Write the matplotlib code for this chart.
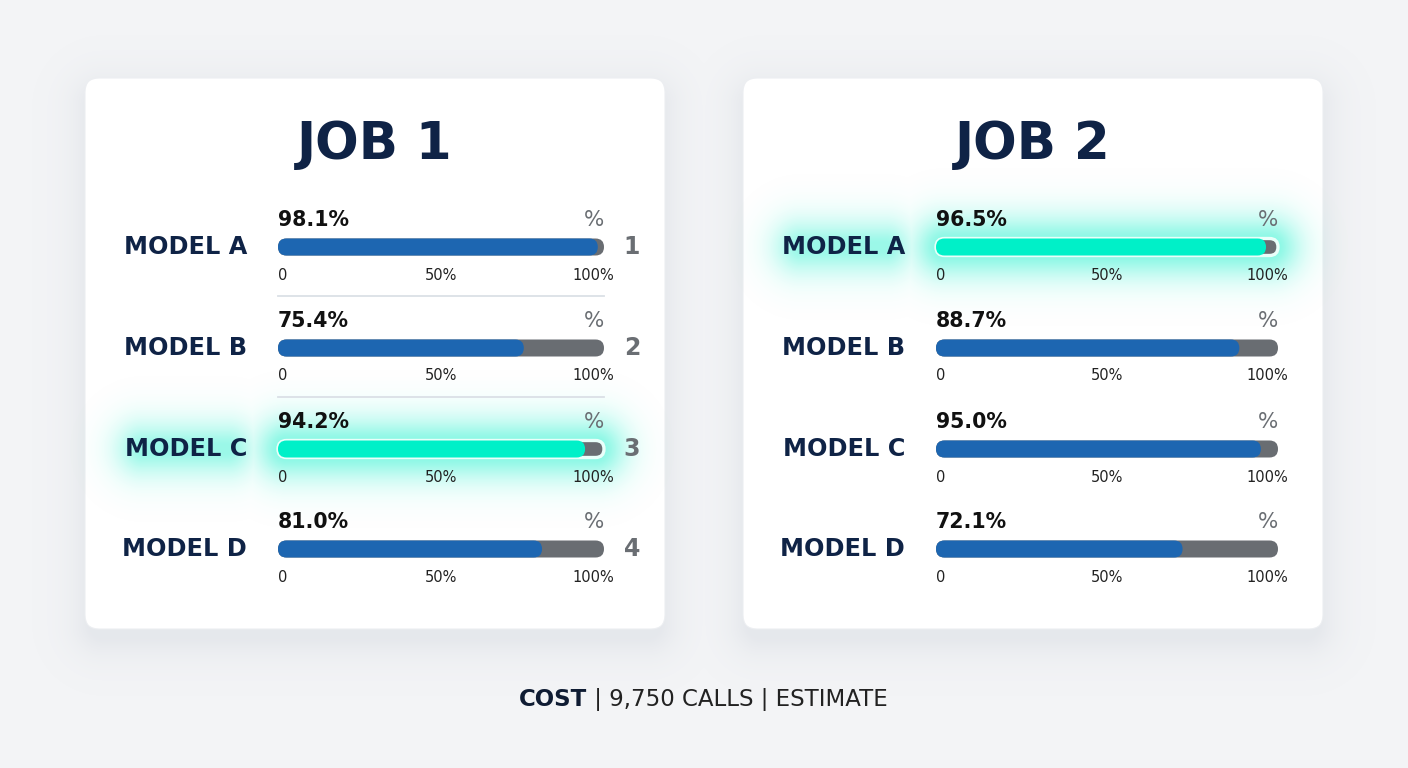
import numpy as np
import matplotlib
matplotlib.use("Agg")
import matplotlib.pyplot as plt
from matplotlib.patches import FancyBboxPatch

# data
models = ["MODEL A", "MODEL B", "MODEL C", "MODEL D"]
job_titles = ["JOB 1", "JOB 2"]
job1_scores = [98.1, 75.4, 94.2, 81.0]
job2_scores = [96.5, 88.7, 95.0, 72.1]
job1_ranks = ["1", "2", "3", "4"]
job_highlight = [2, 0]          # index of highlighted model per job
tick_labels = ["0", "50%", "100%"]
footer_bold = "COST"
footer_rest = " | 9,750 CALLS | ESTIMATE"

NAVY = "#0f2346"
BLUE = "#1d66b1"
TRACK = "#696d72"
TEAL = "#00f0c8"
GREY = "#6a6e73"
BG = "#f3f4f6"

W, H = 1408, 768
fig = plt.figure(figsize=(W / 100, H / 100), dpi=100)
fig.patch.set_facecolor(BG)
ax = fig.add_axes([0, 0, 1, 1])
ax.set_xlim(0, W)
ax.set_ylim(H, 0)
ax.axis("off")


def rrect_dist(X, Y, x0, y0, x1, y1, r):
    # distance from outside of a rounded rectangle
    cx, cy = (x0 + x1) / 2, (y0 + y1) / 2
    hx, hy = (x1 - x0) / 2 - r, (y1 - y0) / 2 - r
    qx = np.abs(X - cx) - hx
    qy = np.abs(Y - cy) - hy
    out = np.hypot(np.maximum(qx, 0), np.maximum(qy, 0))
    return np.maximum(out - r, 0)


# card shadows
yy, xx = np.mgrid[0:H, 0:W] + 0.5
cards = [(85, 78, 665, 629), (743, 78, 1323, 629)]
shadow = np.zeros((H, W))
for (x0, y0, x1, y1) in cards:
    d = rrect_dist(xx, yy, x0 + 4, y0 + 14, x1 - 4, y1 + 10, 14)
    shadow = np.maximum(shadow, 0.13 * np.exp(-(d / 20) ** 1.2))
img = np.zeros((H, W, 4))
img[..., :3] = np.array([0.55, 0.60, 0.68])
img[..., 3] = shadow
ax.imshow(img, extent=(0, W, H, 0), zorder=0, interpolation="bilinear")
ax.set_xlim(0, W)
ax.set_ylim(H, 0)

for (x0, y0, x1, y1) in cards:
    ax.add_patch(FancyBboxPatch((x0, y0), x1 - x0, y1 - y0,
                                boxstyle="round,pad=0,rounding_size=14",
                                fc="white", ec="#eceef1", lw=0.8, zorder=1))

row_y = [247, 348, 449, 549]
bar_h = 17


def glow(label_x0, label_x1, bx0, bx1, yc):
    gx0, gx1 = int(label_x0 - 100), int(bx1 + 100)
    gy0, gy1 = int(yc - 100), int(yc + 100)
    gy, gx = np.mgrid[gy0:gy1, gx0:gx1] + 0.5
    d_bar = rrect_dist(gx, gy, bx0, yc - bar_h / 2, bx1, yc + bar_h / 2, bar_h / 2)
    d_lab = rrect_dist(gx, gy, label_x0 + 15, yc - 4, label_x1 - 15, yc + 4, 4)
    a = np.maximum(0.60 * np.exp(-(d_bar / 24) ** 1.5),
                   0.52 * np.exp(-(d_lab / 24) ** 1.5))
    g = np.zeros(a.shape + (4,))
    g[..., :3] = matplotlib.colors.to_rgb("#3ef3d4")
    g[..., 3] = a
    ax.imshow(g, extent=(gx0, gx1, gy1, gy0), zorder=2, interpolation="bilinear")


jobs = [
    dict(x_off=0, bar_end=604, scores=job1_scores, ranks=job1_ranks, seps=[296, 397]),
    dict(x_off=658, bar_end=1278, scores=job2_scores, ranks=None, seps=[]),
]

for j, job in enumerate(jobs):
    off = job["x_off"]
    cx = (cards[j][0] + cards[j][2]) / 2
    ax.text(cx, 145, job_titles[j], ha="center", va="center", fontsize=37,
            fontweight="bold", color=NAVY, zorder=5)
    bx0, bx1 = 278 + off, job["bar_end"]
    bw = bx1 - bx0
    for sy in job["seps"]:
        ax.plot([bx0, bx1], [sy, sy], color="#dbe0e6", lw=1.3, zorder=3)
    for i, (name, v) in enumerate(zip(models, job["scores"])):
        yc = row_y[i]
        hl = job_highlight[j] == i
        if hl:
            glow(124 + off, 247 + off, bx0, bx1, yc)
        ax.text(247 + off, yc, name, ha="right", va="center", fontsize=17.3,
                fontweight="bold", color=NAVY, zorder=5)
        # track
        ax.add_patch(FancyBboxPatch((bx0, yc - bar_h / 2), bw, bar_h,
                                    boxstyle=f"round,pad=0,rounding_size={bar_h/2}",
                                    fc=TRACK, ec="#e9fffa" if hl else "none",
                                    lw=2.4 if hl else 0, zorder=4))
        fw = bw * v / 100
        ax.add_patch(FancyBboxPatch((bx0, yc - bar_h / 2), fw, bar_h,
                                    boxstyle=f"round,pad=0,rounding_size={bar_h/2}",
                                    fc=TEAL if hl else BLUE, ec="none", zorder=4.5))
        ax.text(bx0, yc - 27, f"{v:.1f}%", ha="left", va="center", fontsize=14.8,
                fontweight="bold", color="#111111", zorder=5)
        ax.text(bx1, yc - 27, "%", ha="right", va="center", fontsize=15.5,
                color=GREY, zorder=5)
        ax.text(bx0, yc + 28, tick_labels[0], ha="left", va="center", fontsize=10.5,
                color="#222222", zorder=5)
        ax.text(bx0 + bw / 2, yc + 28, tick_labels[1], ha="center", va="center",
                fontsize=10.5, color="#222222", zorder=5)
        ax.text(bx1 + 10, yc + 28, tick_labels[2], ha="right", va="center",
                fontsize=10.5, color="#222222", zorder=5)
        if job["ranks"]:
            ax.text(632, yc, job["ranks"][i], ha="center", va="center", fontsize=17,
                    fontweight="bold", color=GREY, zorder=5)

# footer, centred as a whole
t1 = ax.text(0, 706, footer_bold, ha="left", va="baseline", fontsize=16.5,
             fontweight="bold", color="#0f1c33")
t2 = ax.text(0, 706, footer_rest, ha="left", va="baseline", fontsize=16.5,
             color="#222222")
fig.canvas.draw()
w1 = t1.get_window_extent().width
w2 = t2.get_window_extent().width
start = 703.5 - (w1 + w2) / 2
t1.set_x(start)
t2.set_x(start + w1)

fig.savefig("out.png", dpi=100, facecolor=BG)
